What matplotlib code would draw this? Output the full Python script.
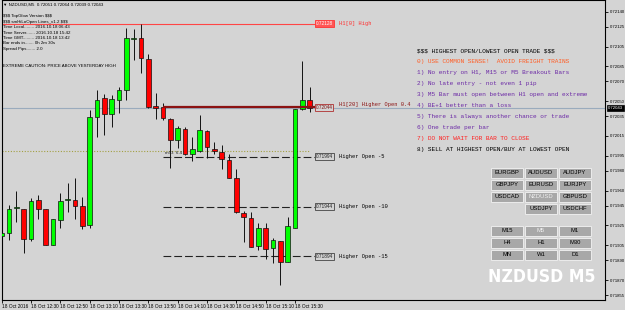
import matplotlib
matplotlib.use("Agg")
import matplotlib.pyplot as plt
import numpy as np
from matplotlib import font_manager
from matplotlib.font_manager import FontProperties
from matplotlib.patches import Rectangle

plt.rcParams["text.parse_math"] = False

# NZDUSD M5 candles, 18 Oct 2016 12:10 .. 15:40
opens = [0.71914, 0.71917, 0.71943, 0.71942, 0.71911, 0.71951, 0.71942, 0.71905, 0.71930, 0.71951,
         0.71951, 0.71945, 0.71925, 0.72034, 0.72053, 0.72037, 0.72051, 0.72061, 0.72113, 0.72114,
         0.72092, 0.72045, 0.72044, 0.72032, 0.72011, 0.72022, 0.71997, 0.72000, 0.72020, 0.72002,
         0.71999, 0.71991, 0.71973, 0.71938, 0.71932, 0.71904, 0.71922, 0.71902, 0.71909, 0.71888,
         0.71922, 0.72042, 0.72051]
highs = [0.71921, 0.71946, 0.71960, 0.71942, 0.71953, 0.71956, 0.71942, 0.71931, 0.71958, 0.71968,
         0.71973, 0.71954, 0.72041, 0.72061, 0.72057, 0.72056, 0.72064, 0.72124, 0.72123, 0.72128,
         0.72097, 0.72058, 0.72048, 0.72033, 0.72025, 0.72024, 0.72014, 0.72036, 0.72021, 0.72009,
         0.72006, 0.71997, 0.71982, 0.71940, 0.71939, 0.71927, 0.71927, 0.71912, 0.71909, 0.71933,
         0.72042, 0.72090, 0.72064]
lows = [0.71902, 0.71910, 0.71928, 0.71897, 0.71909, 0.71931, 0.71905, 0.71905, 0.71922, 0.71939,
        0.71931, 0.71921, 0.71922, 0.72014, 0.72016, 0.72024, 0.72038, 0.72051, 0.72091, 0.72078,
        0.72043, 0.72032, 0.72031, 0.71983, 0.72003, 0.71996, 0.71990, 0.71999, 0.71993, 0.71997,
        0.71982, 0.71973, 0.71938, 0.71908, 0.71903, 0.71900, 0.71891, 0.71887, 0.71865, 0.71888,
        0.71922, 0.72041, 0.72039]
closes = [0.71917, 0.71942, 0.71944, 0.71911, 0.71950, 0.71942, 0.71905, 0.71931, 0.71950, 0.71951,
          0.71945, 0.71924, 0.72034, 0.72051, 0.72037, 0.72052, 0.72061, 0.72114, 0.72114, 0.72093,
          0.72044, 0.72043, 0.72033, 0.72011, 0.72023, 0.71997, 0.72002, 0.72021, 0.72004, 0.72000,
          0.71992, 0.71973, 0.71939, 0.71933, 0.71903, 0.71922, 0.71901, 0.71910, 0.71888, 0.71924,
          0.72042, 0.72051, 0.72043]

time_labels = ["18 Oct 2016", "18 Oct 12:30", "18 Oct 12:50", "18 Oct 13:10", "18 Oct 13:30",
               "18 Oct 13:50", "18 Oct 14:10", "18 Oct 14:30", "18 Oct 14:50", "18 Oct 15:10",
               "18 Oct 15:30"]
price_ticks = [0.72140, 0.72125, 0.72105, 0.72085, 0.72070, 0.72050, 0.72035, 0.72015, 0.71995,
               0.71980, 0.71960, 0.71945, 0.71925, 0.71905, 0.71890, 0.71870, 0.71855]

bid = 0.72043
h1_high = 0.72128
h1_open = 0.72044
higher_opens = [0.71994, 0.71944, 0.71894]
higher_names = ["Higher Open -5", "Higher Open -10", "Higher Open -15"]
olive_level = 0.72000

info_lines = ["$$$ TopGlow Version $$$",
              "$$$ smHiLoOpen Lines_v1.2 $$$",
              "Time Local........ 2016.10.18 06:43",
              "Time Server....... 2016.10.18 15:42",
              "Time GMT......... 2016.10.18 13:42",
              "Bar ends in....... 0h 2m 30s",
              "Spread Pips....... 2.0"]

rules = ["$$$ HIGHEST OPEN/LOWEST OPEN TRADE $$$",
         "0) USE COMMON SENSE!  AVOID FREIGHT TRAINS",
         "1) No entry on H1, M15 or M5 Breakout Bars",
         "2) No late entry - not even 1 pip",
         "3) M5 Bar must open between H1 open and extreme",
         "4) BE+1 better than a loss",
         "5) There is always another chance or trade",
         "6) One trade per bar",
         "7) DO NOT WAIT FOR BAR TO CLOSE",
         "8) SELL AT HIGHEST OPEN/BUY AT LOWEST OPEN"]
rule_colors = ["black", "#ff5e26", "#6c2aa6", "#6c2aa6", "#6c2aa6", "#6c2aa6",
               "#6c2aa6", "#6c2aa6", "#ff2020", "black"]

pairs = [["EURGBP", "AUDUSD", "AUDJPY"],
         ["GBPJPY", "EURUSD", "EURJPY"],
         ["USDCAD", "NZDUSD", "GBPUSD"],
         [None, "USDJPY", "USDCHF"]]
frames = [["M15", "M5", "M1"],
          ["H4", "H1", "M30"],
          ["MN", "W1", "D1"]]

BG = "#d4d4d4"
W, H = 625, 310
SANS = "Liberation Sans"
MONO = "Liberation Mono"


def condensed_bold():
    # look for a narrow/condensed bold face for the big symbol caption
    for f in font_manager.fontManager.ttflist:
        name = f.name.lower()
        narrow = "narrow" in name or "condensed" in name or "condensed" in str(f.stretch)
        bold = str(f.weight) in ("bold", "700", "heavy", "800", "black", "900")
        if narrow and bold:
            return FontProperties(fname=f.fname)
    return FontProperties(family=SANS, weight="bold")


def fx(px):
    return px / W


def fy(py):
    return 1 - py / H


fig = plt.figure(figsize=(W / 100, H / 100), dpi=100, facecolor=BG)
ax = fig.add_axes([fx(1.7), fy(300), 603.6 / W, 300 / H], facecolor=BG)
ax.set_xlim(0, 82.3)
ax.set_ylim(0.71850, 0.721518)
for side in ["left", "right", "bottom", "top"]:
    ax.spines[side].set_color("black")
    ax.spines[side].set_linewidth(0.8)

x = np.arange(len(opens))
o = np.array(opens)
c = np.array(closes)
colors = ["#00ff00" if cc >= oo else "#ff0000" for oo, cc in zip(o, c)]
bottoms = np.minimum(o, c)
heights = np.maximum(np.abs(c - o), 0.000004)

ax.axhline(bid, color="#9aabbd", lw=0.8, zorder=1)
ax.hlines(h1_high, 0, 42.7, color="#ff4545", lw=0.8, zorder=1)
ax.hlines(olive_level, 0, 42.0, color="#a3a043", lw=0.8, linestyles=(0, (1, 1.5)), zorder=1)
ax.hlines(higher_opens, 22, 42.7, color="#222222", lw=0.8, linestyles=(0, (7, 2.7)), zorder=1)

ax.vlines(x, lows, highs, color="#111111", lw=0.7, zorder=2)
ax.bar(x, heights, bottom=bottoms, width=0.66, color=colors, edgecolor="#111111",
       linewidth=0.5, zorder=3)
ax.hlines(h1_open, 22, 42.7, color="#8b1212", lw=1.6, zorder=4)

# level labels
ax.text(42.8, h1_high, f"{h1_high:.5f}", fontsize=3.4, family=SANS, color="white", va="center",
        bbox=dict(boxstyle="square,pad=0.2", fc="#ff5555", ec="#ff3333", lw=0.6))
ax.text(46.0, h1_high, "H1[0] High", fontsize=3.85, family=MONO, color="#ff3030", va="center")
ax.text(42.8, h1_open, f"{h1_open:.5f}", fontsize=3.4, family=SANS, color="#7a1010", va="center",
        bbox=dict(boxstyle="square,pad=0.2", fc=BG, ec="#b03030", lw=0.6))
ax.text(46.0, h1_open + 0.00003, "H1[20] Higher Open 0.4", fontsize=3.85, family=MONO,
        color="#8b1212", va="center")
for lvl, name in zip(higher_opens, higher_names):
    ax.text(42.8, lvl, f"{lvl:.5f}", fontsize=3.4, family=SANS, color="#222222", va="center",
            bbox=dict(boxstyle="square,pad=0.2", fc=BG, ec="#444444", lw=0.6))
    ax.text(46.0, lvl, name, fontsize=3.85, family=MONO, color="black", va="center")
ax.text(22.2, olive_level - 0.00002, "m53  6.4", fontsize=3.2, family=SANS, color="#222222",
        va="center")

# axes ticks
ax.set_xticks(x[::4][:len(time_labels)])
ax.set_xticklabels(time_labels, ha="left", fontsize=3.4, family=SANS)
ax.yaxis.tick_right()
ax.set_yticks(price_ticks)
ax.set_yticklabels([f"{p:.5f}" for p in price_ticks], fontsize=3.1, family=SANS)
ax.tick_params(axis="x", length=2, width=0.6, pad=1)
ax.tick_params(axis="y", length=2, width=0.6, pad=1)
ax.text(1.004, bid, f"{bid:.5f}", transform=ax.get_yaxis_transform(), fontsize=3.1, family=SANS,
        color="white", va="center", ha="left",
        bbox=dict(boxstyle="square,pad=0.2", fc="black", ec="black", lw=0.5), clip_on=False)

# top-left info block
fig.text(fx(3), fy(5), "\u25bc NZDUSD,M5  0.72051 0.72064 0.72039 0.72043", fontsize=3.2,
         family=[SANS, "DejaVu Sans"], va="center", color="black")
info_y = [16, 21.5, 27, 32.5, 38, 43.5, 49]
for yy, line in zip(info_y, info_lines):
    fig.text(fx(3), fy(yy), line, fontsize=3.2, family=SANS, va="center", color="black")
fig.text(fx(3), fy(66), "EXTREME CAUTION: PRICE ABOVE YESTERDAY HIGH", fontsize=3.2, family=SANS,
         va="center", color="black")

# rules list
for i, (line, col) in enumerate(zip(rules, rule_colors)):
    fig.text(fx(417), fy(50.7 + i * 11.0), line, fontsize=4.4, family=MONO, color=col, va="center")


def button(left, top, label, active):
    fig.add_artist(Rectangle((fx(left), fy(top + 10)), 32 / W, 10 / H, transform=fig.transFigure,
                             facecolor="#a8a8a8", edgecolor="#ececec", lw=0.7))
    fig.text(fx(left + 16), fy(top + 5), label, fontsize=4.2, family=SANS, ha="center",
             va="center", color="#f0f0f0" if active else "black")


col_left = [491, 525, 559]
for r, row in enumerate(pairs):
    for k, name in enumerate(row):
        if name:
            button(col_left[k], 167.5 + r * 12, name, name == "NZDUSD")
for r, row in enumerate(frames):
    for k, name in enumerate(row):
        button(col_left[k], 226 + r * 12, name, name == "M5")

big = fig.text(fx(541.5), fy(277), "NZDUSD M5", fontproperties=condensed_bold(), fontsize=20,
               color="white", ha="center", va="center")
fig.canvas.draw()
width = big.get_window_extent().width
big.set_fontsize(min(24, 20 * 107 / width))

fig.savefig("out.png", dpi=100, facecolor=BG)
